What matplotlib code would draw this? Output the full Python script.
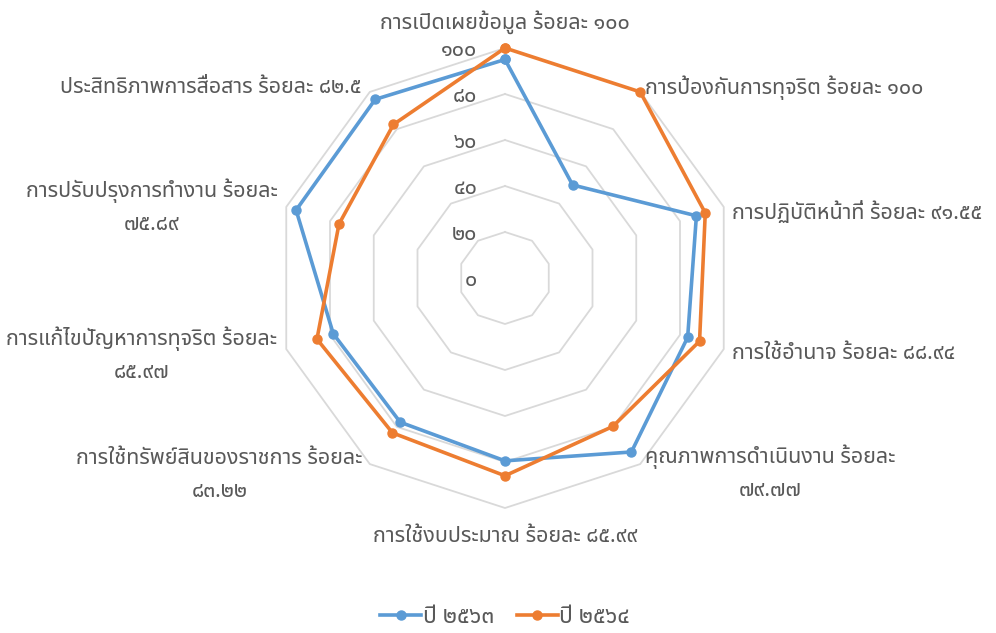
import numpy as np
import matplotlib
matplotlib.use("Agg")
import matplotlib.pyplot as plt

plt.rcParams["font.family"] = ["Noto Sans Thai", "DejaVu Sans"]
plt.rcParams["font.weight"] = "light"

categories = [
    "การเปิดเผยข้อมูล ร้อยละ ๑๐๐",
    "การป้องกันการทุจริต ร้อยละ ๑๐๐",
    "การปฏิบัติหน้าที่ ร้อยละ ๙๑.๕๕",
    "การใช้อำนาจ ร้อยละ ๘๘.๙๔",
    "คุณภาพการดำเนินงาน ร้อยละ\n๗๙.๗๗",
    "การใช้งบประมาณ ร้อยละ ๘๕.๙๙",
    "การใช้ทรัพย์สินของราชการ ร้อยละ\n๘๓.๒๒",
    "การแก้ไขปัญหาการทุจริต ร้อยละ\n๘๕.๙๗",
    "การปรับปรุงการทำงาน ร้อยละ\n๗๕.๘๙",
    "ประสิทธิภาพการสื่อสาร ร้อยละ ๘๒.๕",
]
y2563 = [95, 50, 87.5, 83.5, 93.5, 79.5, 77.5, 78.5, 95.5, 96]
y2564 = [100, 100, 91.55, 88.94, 79.77, 85.99, 83.22, 85.97, 75.89, 82.5]
series_names = ["ปี ๒๕๖๓", "ปี ๒๕๖๔"]
rticks = [0, 20, 40, 60, 80, 100]
rtick_labels = ["๐", "๒๐", "๔๐", "๖๐", "๘๐", "๑๐๐"]

BLUE = "#5B9BD5"
ORANGE = "#ED7D31"
TEXT = "#595959"
FS = 15.5

n = len(categories)
theta = np.linspace(0, 2 * np.pi, n, endpoint=False)
theta_c = np.append(theta, theta[0])

fig = plt.figure(figsize=(9.96, 6.33), dpi=100)
ax = fig.add_axes([275 / 996, 125 / 633, 460 / 996, 460 / 633], projection="polar")
ax.set_theta_zero_location("N")
ax.set_theta_direction(-1)
ax.set_ylim(0, 100)
ax.grid(False)
ax.spines["polar"].set_visible(False)
ax.set_xticks([])
ax.set_yticks([])
ax.patch.set_alpha(0)

for v in rticks[1:]:
    ax.plot(theta_c, [v] * (n + 1), color="#D9D9D9", lw=1.3, zorder=1, clip_on=False)

for v, lbl in zip(rticks, rtick_labels):
    ax.annotate(lbl, xy=(0, v), xytext=(-20, -2), textcoords="offset points",
                ha="right", va="center", fontsize=FS, color=TEXT)

for vals, col, name in [(y2563, BLUE, series_names[0]), (y2564, ORANGE, series_names[1])]:
    ax.plot(theta_c, vals + vals[:1], color=col, lw=2.6, marker="o", ms=6.5,
            label=name, zorder=3, clip_on=False)

# label placement: (ha, dx px, dy px)
place = [
    ("center", 0, 26),
    ("left", 5, 4),
    ("left", 8, -6),
    ("left", 8, -4),
    ("left", 5, -9),
    ("center", 0, -29),
    ("right", -7, -11),
    ("right", -9, -6),
    ("right", -9, 0),
    ("right", -8, 4),
]
for t, lbl, (ha, dx, dy) in zip(theta, categories, place):
    ax.annotate(lbl, xy=(t, 100), xytext=(dx * 0.72, dy * 0.72),
                textcoords="offset points", ha=ha, va="center",
                multialignment="center", linespacing=1.7,
                fontsize=FS, color=TEXT, annotation_clip=False)

fig.legend(loc="lower center", bbox_to_anchor=(0.507, -0.027), ncol=2, frameon=False,
           fontsize=16.5, labelcolor=TEXT, handlelength=1.8, handletextpad=0.05,
           columnspacing=1.0)

fig.savefig("out.png", dpi=100)
